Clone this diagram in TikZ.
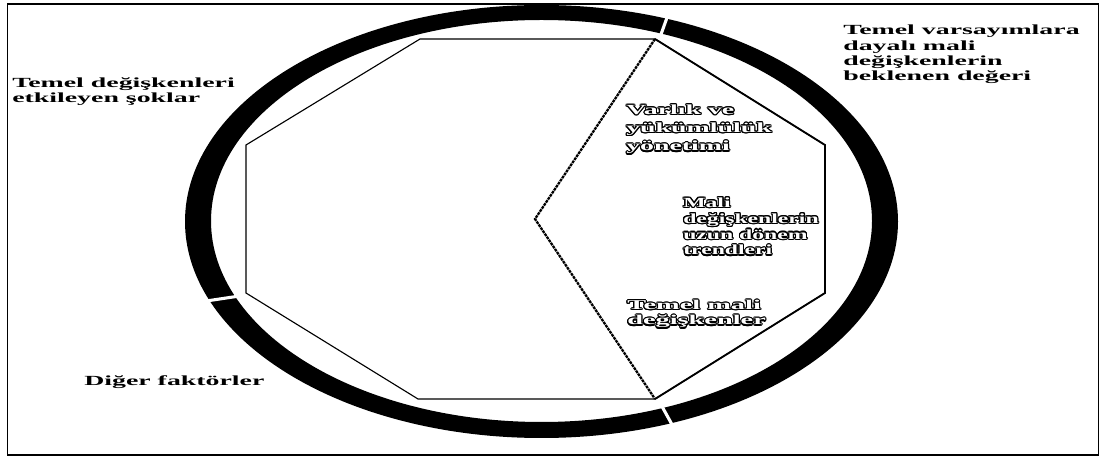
\documentclass[tikz,border=0pt]{standalone}
\usepackage{fontspec}
\setmainfont{Liberation Serif}
\newfontfamily\widefont[FakeStretch=2.0]{Liberation Serif}
\newfontfamily\narrowfont[FakeStretch=1.7]{Liberation Serif}
\newfontfamily\widerfont[FakeStretch=2.1]{Liberation Serif}
\usepackage{contour}
\contourlength{0.8pt}
\newcommand{\outl}[1]{\contour{black}{#1}}

\tikzset{
  lbl/.style={anchor=base west, align=left, inner sep=0pt,
    font=\widefont\bfseries\fontsize{9.9}{11.3}\selectfont},
  inlbl/.style={lbl, text=white},
  ringgap/.style={white, line width=2.2pt},
  wedgeline/.style={line width=1.6pt, dash pattern=on 2pt off 0.6pt},
}

\begin{document}
\begin{tikzpicture}[x=0.025cm, y=-0.025cm]
  \useasboundingbox (0,0) rectangle (1105,457);

  % Frame
  \draw[line width=1pt] (7.5,4) rectangle (1098.5,455);

  % Ring
  \fill[even odd rule] (541.5,221.5) ellipse [x radius=356.5, y radius=216.5]
    (541.5,221) ellipse [x radius=330.5, y radius=201];

  % Cuts in the ring
  \draw[ringgap] (659,40) -- (669,12);
  \draw[ringgap] (243,295.5) -- (203,301.5);
  \draw[ringgap] (659,401) -- (675,430);

  % Octagon and wedge
  \coordinate (ctr) at (535,219);
  \coordinate (o1) at (420,39);
  \coordinate (o2) at (655,39);
  \coordinate (o3) at (825,145);
  \coordinate (o4) at (825,293);
  \coordinate (o5) at (655,399);
  \coordinate (o6) at (418,399);
  \coordinate (o7) at (246,293);
  \coordinate (o8) at (246,145);
  \filldraw[fill=white, line width=0.8pt]
    (o1) -- (o2) -- (o3) -- (o4) -- (o5) -- (o6) -- (o7) -- (o8) -- cycle;
  \draw[line width=1.3pt] (o2) -- (o3) -- (o4) -- (o5);
  \draw[wedgeline] (o2) -- (ctr) -- (o5);

  % Labels outside the ring (anchored at the last line)
  \node[lbl] (shocks) at (12,103) {Temel değişkenleri\\etkileyen şoklar};
  \node[lbl, font=\widefont\bfseries\fontsize{9.9}{11}\selectfont] (expect) at (843,81)
    {Temel varsayımlara\\dayalı mali\\değişkenlerin\\beklenen değeri};
  \node[lbl] (other) at (84,386) {Diğer faktörler};

  % Labels inside the wedge
  \node[inlbl, font=\widefont\bfseries\fontsize{9.9}{13}\selectfont] (alm) at (626,151)
    {\outl{Varlık ve}\\\outl{yükümlülük}\\\outl{yönetimi}};
  \node[inlbl, font=\narrowfont\bfseries\fontsize{9.9}{11.3}\selectfont] (trend) at (683,255)
    {\outl{Mali}\\\outl{değişkenlerin}\\\outl{uzun dönem}\\\outl{trendleri}};
  \node[inlbl, font=\widerfont\bfseries\fontsize{9.6}{10.8}\selectfont] (core) at (627,325)
    {\outl{Temel mali}\\\outl{değişkenler}};
\end{tikzpicture}
\end{document}
